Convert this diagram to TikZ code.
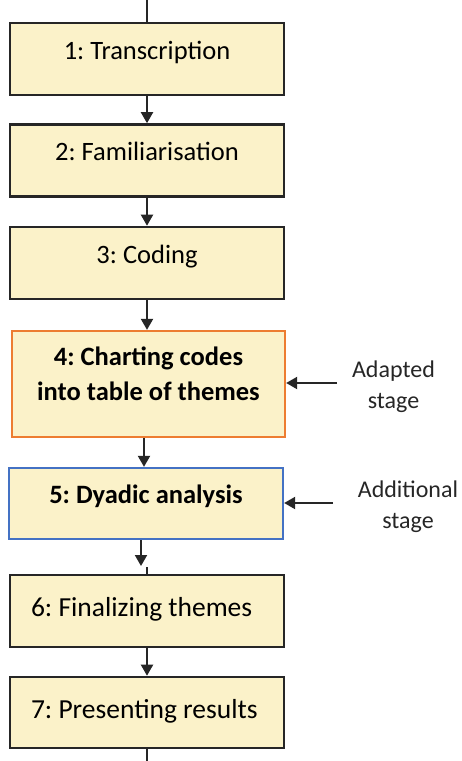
\documentclass[tikz,border=0pt]{standalone}
\usepackage{fontspec}
\setmainfont{Carlito}
\usetikzlibrary{arrows.meta}
\frenchspacing

\definecolor{stagefill}{HTML}{FBF2C9}
\definecolor{stageline}{HTML}{262626}
\definecolor{adaptline}{HTML}{ED7D31}
\definecolor{addline}{HTML}{4472C4}

\begin{document}
\begin{tikzpicture}[x=1pt,y=-1pt]
	\tikzstyle{every node}=[font=\fontsize{26.5}{35}\selectfont]
	\tikzstyle{stagebox}=[draw=stageline, fill=stagefill, line width=2.6pt, minimum width=274pt, minimum height=72pt, inner sep=0pt, text height=18pt, text depth=18pt, align=center]
	\tikzstyle{lowbox}=[stagebox, font=\fontsize{27.5}{35}\selectfont, text width=232pt, inner xsep=21pt, align=flush left, text height=20pt, text depth=9pt]
	\tikzstyle{sidenote}=[font=\fontsize{24}{31}\selectfont, align=center, text=stageline]
	\tikzstyle{flow}=[draw=stageline, line width=2pt, -{Triangle[length=11pt,width=12pt]}]
	\tikzstyle{link}=[draw=stageline, line width=2pt]

	\useasboundingbox (0,0) rectangle (461,761);

	%% stages
	\node [stagebox]  (s1) at (147,59)    {1: Transcription};
	\node [stagebox]  (s2) at (147,160.5) {2: Familiarisation};
	\node [stagebox]  (s3) at (147,263)   {3: Coding};
	\node [stagebox, draw=adaptline, line width=2.3pt, minimum width=273pt, minimum height=106pt, text height=42pt, text depth=10pt, font=\bfseries\fontsize{26.5}{35}\selectfont]  (s4) at (148.5,384) {4: Charting codes\\into table of themes};
	\node [stagebox, draw=addline, line width=2.3pt, minimum height=71pt, font=\bfseries\fontsize{26.5}{35}\selectfont]  (s5) at (146,503.5) {5: Dyadic analysis};
	\node [lowbox]    (s6) at (147,611)   {6: Finalizing themes};
	\node [lowbox, minimum height=71pt]    (s7) at (147,712.5) {7: Presenting results};

	%% side notes
	\node [sidenote]  (adapted) at (393.5,387) {Adapted\\stage};
	\node [sidenote]  (additional) at (408,507) {Additional\\stage};

	%% flow
	\coordinate (top) at (147,0);
	\coordinate (bottom) at (147,761);
	\coordinate (j56) at (141,566);
	\coordinate (a4) at (337,383);
	\coordinate (a5) at (333,503);
	\draw [link] (top) -- (s1.north);
	\draw [flow] (s1.south) -- (s2.north);
	\draw [flow] (s2.south) -- (s3.north);
	\draw [flow] (s3.south) -- (s3.south |- s4.north);
	\draw [flow] ([xshift=-4.5pt]s4.south) -- ([xshift=-4.5pt]s4.south |- s5.north);
	\draw [flow] ([xshift=-5pt]s5.south) -- (j56);
	\draw [link] (s6.north) -- ++(0,-7);
	\draw [flow] (s6.south) -- (s7.north);
	\draw [link] (s7.south) -- (bottom);
	\draw [flow] (a4) -- (a4 -| s4.east);
	\draw [flow] (a5) -- (a5 -| s5.east);

\end{tikzpicture}
\end{document}
